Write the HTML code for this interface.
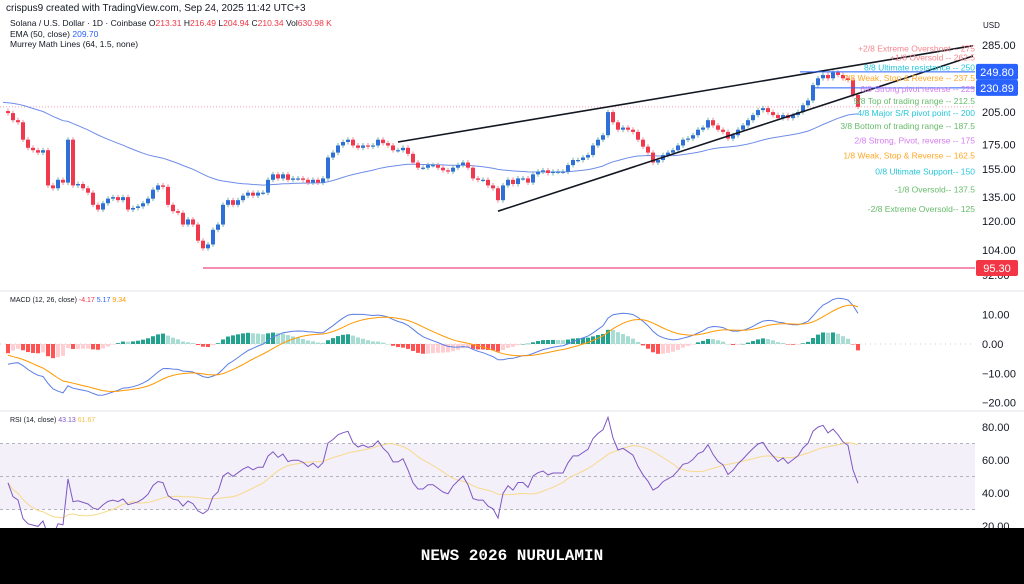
<!DOCTYPE html>
<html><head><meta charset="utf-8"><style>
body{margin:0;width:1024px;height:584px;overflow:hidden;background:#fff;font-family:"Liberation Sans",sans-serif}
svg{position:absolute;left:0;top:0}
#banner{position:absolute;left:0;top:528px;width:1024px;height:56px;background:#000;color:#fff;font-family:"Liberation Mono",monospace;font-size:16px;font-weight:bold;text-align:center;line-height:56px}
</style></head><body>
<svg id="chart" width="1024" height="584" viewBox="0 0 1024 584">
<g font-size="10" fill="#131722">
<text x="6" y="11">crispus9 created with TradingView.com, Sep 24, 2025 11:42 UTC+3</text>
<text x="10" y="26" font-size="8.5">Solana / U.S. Dollar · 1D · Coinbase  O<tspan fill="#f23645">213.31</tspan> H<tspan fill="#f23645">216.49</tspan> L<tspan fill="#f23645">204.94</tspan> C<tspan fill="#f23645">210.34</tspan> Vol<tspan fill="#f23645">630.98 K</tspan></text>
<text x="10" y="37" font-size="8.5">EMA (50, close) <tspan fill="#2962ff">209.70</tspan></text>
<text x="10" y="47" font-size="8.5">Murrey Math Lines (64, 1.5, none)</text>
<text x="983" y="28" font-size="8">USD</text>
</g>
<line x1="0" y1="291" x2="1024" y2="291" stroke="#e0e3eb"/>
<line x1="0" y1="411" x2="1024" y2="411" stroke="#e0e3eb"/>
<text x="10" y="302" font-size="7" fill="#131722">MACD (12, 26, close) <tspan fill="#f23645">-4.17</tspan> <tspan fill="#2962ff">5.17</tspan> <tspan fill="#ff9800">9.34</tspan></text>
<text x="10" y="422" font-size="7" fill="#131722">RSI (14, close) <tspan fill="#7e57c2">43.13</tspan> <tspan fill="#f5c04a">61.67</tspan></text>
<g id="layer"></g>
</svg>
<div id="banner">NEWS 2026 NURULAMIN</div>
<script>
const closes=[204,197,195,179,172,170,168,170,143,141,147,145,179,143,144,141,138,130,127,131,134,135,133,135,127,128,129,131,134,140,143,142,130,126,125,118,121,118,109,105,107,115,118,130,133,130,133,136,138,136,138,138,147,151,148,151,147,148,148,147,145,147,145,148,164,168,174,177,179,174,172,174,173,174,179,176,174,170,170,172,167,160,156,156,158,158,156,154,153,156,158,160,156,148,147,147,143,141,133,143,147,144,148,148,145,151,153,154,152,153,153,153,158,162,162,164,166,174,179,183,205,195,188,190,188,186,179,173,168,160,162,166,168,170,174,179,180,183,188,190,197,192,188,186,180,183,188,192,197,202,207,209,205,202,199,202,199,202,205,212,217,234,242,246,242,249,246,242,240,223,210.34];
const priceTicks=[285,205,175,155,135,120,104,92];
const macdTicks=[10,0,-10,-20];
const rsiTicks=[80,60,40,20];
const murreyLevels=[275,262.5,250,237.5,225,212.5,200,187.5,175,162.5,150,137.5,125];
const murreyNames=["+2/8 Extreme Overshoot --","+1/8 Oversold --","8/8 Ultimate resistance --","7/8 Weak, Stop & Reverse --","6/8 Strong pivot reverse --","5/8 Top of trading range --","4/8 Major S/R pivot point --","3/8 Bottom of trading range --","2/8 Strong, Pivot, reverse --","1/8 Weak, Stop & Reverse --","0/8 Ultimate Support--","-1/8 Oversold--","-2/8 Extreme Oversold--"];
const murreyColors=["#f7868e","#f7868e","#26c6da","#ffa726","#d57bf0","#66bb6a","#26c6da","#66bb6a","#d57bf0","#ffa726","#26c6da","#66bb6a","#66bb6a"];
const priceTags=[249.80,230.89,95.30];
const trendUpper=[[78,177],[193,284]];
const trendLower=[[98,126],[193,270]];
const emaSeed=215, ema12Seed=198, ema26Seed=206, sigSeed=-3;

const NS="http://www.w3.org/2000/svg";
const layer=document.getElementById('layer');
function mk(tag,attrs){const e=document.createElementNS(NS,tag);for(const k in attrs)e.setAttribute(k,attrs[k]);layer.appendChild(e);return e;}
const X=i=>8+i*5;
const Y=p=>45+(Math.log(285)-Math.log(p))*203.6;
const YM=v=>344-v*2.93;
const YR=v=>526-(v-20)*1.65;
const R=975;

let e=mk('rect',{x:0,y:YR(70),width:R,height:YR(30)-YR(70),fill:'rgba(126,87,194,0.09)'});


[70,50,30].forEach(v=>{const l=mk('line',{x1:0,x2:R,y1:YR(v),y2:YR(v),stroke:'#b2b5be','stroke-dasharray':'3,3'});

});
let z=mk('line',{x1:0,x2:R,y1:YM(0),y2:YM(0),stroke:'#ccc','stroke-dasharray':'1,4'});



let cp=mk('line',{x1:0,x2:R,y1:Y(closes[closes.length-1]),y2:Y(closes[closes.length-1]),stroke:'#f7a1b0','stroke-dasharray':'1,2'});



priceTicks.forEach(t=>{const s=mk('text',{x:982,y:Y(t)+4,'font-size':11,fill:'#131722'});s.textContent=t.toFixed(2);

});
macdTicks.forEach(t=>{const s=mk('text',{x:982,y:YM(t)+4,'font-size':11,fill:'#131722'});s.textContent=(t===0?'0.00':(t<0?'−':'')+Math.abs(t).toFixed(2));

});
rsiTicks.forEach(t=>{const s=mk('text',{x:982,y:YR(t)+4,'font-size':11,fill:'#131722'});s.textContent=t.toFixed(2);

});

let em=emaSeed,emaPts=[];const k50=2/51;
closes.forEach((c,i)=>{em=c*k50+em*(1-k50);emaPts.push(X(i)+','+Y(em).toFixed(1));});
let ep=mk('polyline',{points:'3,'+Y(emaSeed).toFixed(1)+' '+emaPts.join(' '),fill:'none',stroke:'#6f8de8','stroke-width':1});



closes.forEach((c,i)=>{const o=i?closes[i-1]:c*1.01;const up=c>=o;const col=up?'#2e6fd8':'#f0394d';
const hi=Math.max(o,c)*1.012, lo=Math.min(o,c)*0.988;
const w=mk('line',{x1:X(i),x2:X(i),y1:Y(hi),y2:Y(lo),stroke:up?'#6fb3a8':'#f28a98','stroke-width':1});


const top=Y(Math.max(o,c)),bot=Y(Math.min(o,c));
const b=mk('rect',{x:X(i)-2,y:top,width:4,height:Math.max(1.2,bot-top),fill:col});

});

[trendUpper,trendLower].forEach((t,j)=>{const l=mk('line',{x1:X(t[0][0]),y1:Y(t[0][1]),x2:X(t[1][0]),y2:Y(t[1][1]),stroke:'#131722','stroke-width':1.6});

});

let h1=mk('line',{x1:800,x2:R,y1:Y(priceTags[0]),y2:Y(priceTags[0]),stroke:'#2962ff','stroke-width':1});


let h2=mk('line',{x1:815,x2:R,y1:Y(priceTags[1]),y2:Y(priceTags[1]),stroke:'#2962ff','stroke-width':1});


let h3=mk('line',{x1:203,x2:R,y1:Y(priceTags[2]),y2:Y(priceTags[2]),stroke:'#e91e63','stroke-width':1});



murreyLevels.forEach((lv,i)=>{const s=mk('text',{x:R,y:Y(lv)-1,'font-size':8.5,fill:murreyColors[i],'text-anchor':'end'});s.textContent=murreyNames[i]+'  '+lv;

});

priceTags.forEach((p,i)=>{const c=i<2?'#2962ff':'#f23645';const y=Y(p);
const r=mk('rect',{x:976,y:y-8,width:42,height:16,rx:2,fill:c});


const s=mk('text',{x:997,y:y+4,'font-size':11,fill:'#fff','text-anchor':'middle'});s.textContent=p.toFixed(2);

});

let e12=ema12Seed,e26=ema26Seed,sig=sigSeed,prevH=0;const mPts=[],sPts=[];
closes.forEach((c,i)=>{e12=c*2/13+e12*11/13;e26=c*2/27+e26*25/27;const m=(e12-e26);sig=m*0.2+sig*0.8;const h=m-sig;
mPts.push(X(i)+','+YM(m).toFixed(1));sPts.push(X(i)+','+YM(sig).toFixed(1));
const col=h>=0?(h>=prevH?'#22a38f':'#a8ddd3'):(h<=prevH?'#ff5252':'#ffcdd2');prevH=h;
const b=mk('rect',{x:X(i)-2,y:Math.min(YM(0),YM(h)),width:4,height:Math.max(0.5,Math.abs(YM(h)-YM(0))),fill:col});

});
let ml=mk('polyline',{points:mPts.join(' '),fill:'none',stroke:'#5b7ee5','stroke-width':1});


let sl=mk('polyline',{points:sPts.join(' '),fill:'none',stroke:'#ff9800','stroke-width':1});



let ag=1.2,al=1.4;const rPts=[],rv=[],maPts=[];
closes.forEach((c,i)=>{const d=i?c-closes[i-1]:0;ag=(ag*13+Math.max(d,0))/14;al=(al*13+Math.max(-d,0))/14;const r=100-100/(1+ag/al);rv.push(r);rPts.push(X(i)+','+YR(r).toFixed(1));
const sl=rv.slice(-14);const ma=sl.reduce((a,b)=>a+b,0)/sl.length;maPts.push(X(i)+','+YR(ma).toFixed(1));});
let rma=mk('polyline',{points:maPts.join(' '),fill:'none',stroke:'#f8d98a','stroke-width':1});


let rl=mk('polyline',{points:rPts.join(' '),fill:'none',stroke:'#7e57c2','stroke-width':1});


</script>
</body></html>
